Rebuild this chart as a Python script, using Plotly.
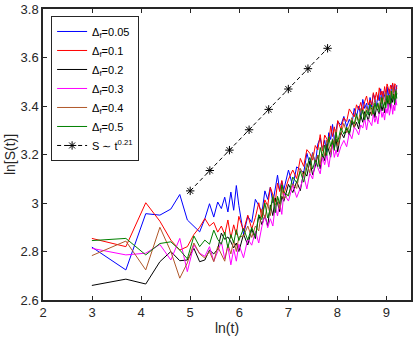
import numpy as np
import plotly.graph_objects as go

# sampling times: fine at early times, coarser later on
t_vals = (list(range(20, 401, 20)) + list(range(440, 1001, 40))
          + list(range(1100, 3001, 100)) + list(range(3200, 10001, 200)))

s_005 = [2.818, 2.724, 2.956, 2.950, 2.975, 3.035, 2.930, 2.905, 2.881, 2.935, 2.997, 2.942, 3.004, 2.977, 3.024, 2.963, 3.045, 2.970, 3.072, 2.990,
         2.870, 2.945, 2.920, 3.015, 2.990, 2.960, 3.050, 3.015, 3.065, 3.000, 3.070, 3.115, 3.050, 3.090, 3.055,
         3.136, 3.069, 3.149, 3.137, 3.125, 3.205, 3.160, 3.208, 3.161, 3.243, 3.268, 3.218, 3.259, 3.209, 3.290, 3.262, 3.324, 3.256, 3.290, 3.337,
         3.321, 3.357, 3.314, 3.345, 3.322, 3.390, 3.356, 3.399, 3.361, 3.427, 3.390, 3.412, 3.371, 3.435, 3.396, 3.450, 3.429, 3.397, 3.443, 3.421,
         3.471, 3.407, 3.460, 3.441, 3.423, 3.479, 3.436, 3.468, 3.425, 3.484, 3.490, 3.454, 3.481, 3.438, 3.486]
s_01 = [2.854, 2.820, 3.001, 2.925, 2.847, 2.806, 2.820, 2.870, 2.900, 2.936, 2.905, 2.920, 2.880, 2.905, 2.870, 2.930, 2.855, 2.910, 2.870, 2.945,
        2.886, 2.950, 2.893, 2.940, 3.001, 2.940, 3.013, 2.988, 3.065, 3.035, 3.004, 3.082, 3.047, 3.093, 3.035,
        3.098, 3.136, 3.101, 3.184, 3.151, 3.220, 3.205, 3.177, 3.237, 3.219, 3.282, 3.215, 3.280, 3.265, 3.250, 3.318, 3.274, 3.314, 3.269, 3.340,
        3.304, 3.351, 3.336, 3.388, 3.372, 3.355, 3.405, 3.385, 3.415, 3.379, 3.418, 3.441, 3.404, 3.425, 3.404, 3.455, 3.426, 3.457, 3.424, 3.475,
        3.445, 3.462, 3.429, 3.480, 3.449, 3.491, 3.475, 3.450, 3.486, 3.470, 3.495, 3.458, 3.492, 3.485, 3.470]
s_02 = [2.660, 2.686, 2.666, 2.758, 2.800, 2.762, 2.765, 2.813, 2.758, 2.765, 2.806, 2.790, 2.810, 2.876, 2.850, 2.860, 2.840, 2.815, 2.835, 2.800,
        2.871, 2.827, 2.892, 2.853, 2.950, 2.911, 2.949, 2.905, 2.992, 2.948, 3.020, 2.999, 2.964, 3.028, 3.007,
        3.077, 3.043, 3.088, 3.051, 3.130, 3.111, 3.172, 3.116, 3.152, 3.198, 3.141, 3.202, 3.175, 3.244, 3.217, 3.189, 3.257, 3.225, 3.264, 3.211,
        3.291, 3.269, 3.307, 3.280, 3.337, 3.311, 3.333, 3.305, 3.361, 3.333, 3.377, 3.362, 3.339, 3.376, 3.361, 3.401, 3.352, 3.394, 3.381, 3.367,
        3.413, 3.380, 3.405, 3.372, 3.420, 3.431, 3.398, 3.420, 3.387, 3.435, 3.415, 3.451, 3.405, 3.425, 3.452]
s_03 = [2.813, 2.786, 2.793, 2.829, 2.765, 2.854, 2.717, 2.827, 2.793, 2.780, 2.820, 2.760, 2.800, 2.840, 2.770, 2.820, 2.745, 2.810, 2.760, 2.830,
        2.774, 2.852, 2.826, 2.883, 2.835, 2.904, 2.950, 2.898, 2.935, 2.905, 2.991, 2.947, 3.002, 2.953, 3.040,
        3.008, 3.074, 3.023, 3.062, 3.113, 3.058, 3.123, 3.099, 3.171, 3.145, 3.120, 3.189, 3.158, 3.199, 3.148, 3.204, 3.240, 3.188, 3.219, 3.190,
        3.233, 3.258, 3.232, 3.290, 3.265, 3.312, 3.301, 3.281, 3.322, 3.309, 3.350, 3.301, 3.345, 3.332, 3.319, 3.365, 3.333, 3.358, 3.326, 3.374,
        3.386, 3.353, 3.375, 3.342, 3.390, 3.370, 3.407, 3.362, 3.382, 3.410, 3.366, 3.404, 3.381, 3.426, 3.403]
s_04 = [2.783, 2.843, 2.724, 2.900, 2.800, 2.690, 2.753, 2.835, 2.790, 2.773, 2.800, 2.758, 2.820, 2.790, 2.760, 2.830, 2.790, 2.845, 2.800, 2.860,
        2.864, 2.905, 2.858, 2.905, 2.885, 2.976, 2.937, 2.997, 2.948, 3.035, 2.991, 3.024, 2.975, 3.062, 3.017,
        3.037, 3.079, 3.060, 3.143, 3.110, 3.163, 3.124, 3.204, 3.168, 3.198, 3.157, 3.234, 3.195, 3.260, 3.241, 3.209, 3.265, 3.245, 3.304, 3.235,
        3.283, 3.328, 3.290, 3.317, 3.352, 3.313, 3.357, 3.340, 3.390, 3.371, 3.352, 3.398, 3.375, 3.402, 3.364, 3.402, 3.425, 3.387, 3.408, 3.386,
        3.438, 3.408, 3.440, 3.406, 3.457, 3.427, 3.444, 3.412, 3.463, 3.432, 3.475, 3.458, 3.432, 3.469, 3.452]
s_05 = [2.845, 2.854, 2.786, 2.833, 2.840, 2.806, 2.770, 2.864, 2.820, 2.847, 2.830, 2.888, 2.850, 2.830, 2.880, 2.815, 2.870, 2.835, 2.890, 2.845,
        2.895, 2.847, 2.899, 2.860, 2.952, 2.931, 3.000, 2.938, 2.975, 3.026, 2.960, 3.028, 2.997, 3.075, 3.045,
        3.029, 3.107, 3.084, 3.131, 3.086, 3.147, 3.188, 3.140, 3.176, 3.150, 3.229, 3.190, 3.239, 3.196, 3.273, 3.233, 3.261, 3.217, 3.292, 3.251,
        3.309, 3.284, 3.313, 3.287, 3.341, 3.326, 3.368, 3.328, 3.353, 3.384, 3.342, 3.382, 3.362, 3.408, 3.387, 3.366, 3.412, 3.387, 3.413, 3.374,
        3.412, 3.434, 3.395, 3.415, 3.393, 3.443, 3.413, 3.444, 3.410, 3.461, 3.430, 3.446, 3.412, 3.463, 3.431]

# power-law guide S ~ t^0.21
fit_x = [5.0, 5.4, 5.8, 6.2, 6.6, 7.0, 7.4, 7.8]
fit_y = [3.050, 3.134, 3.218, 3.302, 3.386, 3.470, 3.554, 3.638]

x_ticks = [2, 3, 4, 5, 6, 7, 8, 9]
y_ticks = [2.6, 2.8, 3.0, 3.2, 3.4, 3.6, 3.8]
y_labels = ["2.6", "2.8", "3", "3.2", "3.4", "3.6", "3.8"]

series = [
    ("0.05", s_005, "#0000ff"),
    ("0.1", s_01, "#ff0000"),
    ("0.2", s_02, "#000000"),
    ("0.3", s_03, "#ff00ff"),
    ("0.4", s_04, "#b0582a"),
    ("0.5", s_05, "#008000"),
]

ln_t = np.log(np.array(t_vals, dtype=float))

fig = go.Figure()
for lab, vals, col in series:
    fig.add_trace(go.Scatter(
        x=ln_t, y=vals, mode="lines",
        name="Δ<sub>f</sub>=" + lab,
        line=dict(color=col, width=1),
        hoverinfo="skip",
    ))

fig.add_trace(go.Scatter(
    x=fit_x, y=fit_y, mode="lines+markers",
    name="S ∼ t<sup>0.21</sup>",
    line=dict(color="#000000", width=1, dash="4px,3px"),
    marker=dict(symbol="asterisk-open", size=7, color="#000000",
                line=dict(color="#000000", width=1)),
    hoverinfo="skip",
))

axis_common = dict(
    showline=True, linecolor="#262626", linewidth=1.5, mirror="ticks",
    ticks="inside", ticklen=4, tickcolor="#262626", tickwidth=1,
    showgrid=False, zeroline=False, ticklabeloverflow="allow",
    tickfont=dict(size=13, color="#262626"),
)

fig.update_layout(
    width=415, height=340,
    margin=dict(l=43, r=2, t=7, b=40),
    paper_bgcolor="white", plot_bgcolor="white",
    font=dict(family="Liberation Sans, Arial, sans-serif", color="#262626", size=13),
    xaxis=dict(range=[2, 9.5], tickvals=x_ticks,
               title=dict(text="ln(t)", standoff=3, font=dict(size=14)), **axis_common),
    yaxis=dict(range=[2.6, 3.8], tickvals=y_ticks, ticktext=y_labels,
               title=dict(text="ln[S(t)]", standoff=2, font=dict(size=14)), **axis_common),
    legend=dict(x=0.022, y=0.976, xanchor="left", yanchor="top",
                bgcolor="white", bordercolor="#262626", borderwidth=1,
                font=dict(size=11, color="#000000"), tracegroupgap=0,
                itemwidth=30),
    showlegend=True,
    hovermode=False,
)

# page body has a default 8px margin; drop it so the figure sits at the origin
fig.write_html("out.html", config={"displayModeBar": False},
               post_script="document.body.style.margin='0px';")
